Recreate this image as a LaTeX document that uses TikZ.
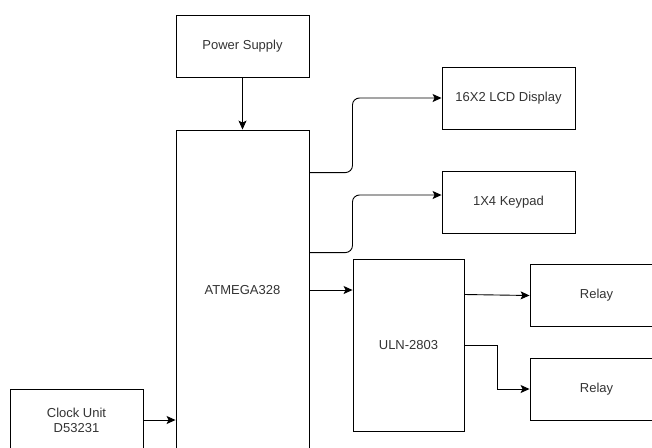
\documentclass[tikz,border=0pt]{standalone}
\usepackage{fontspec}
\setmainfont{Liberation Sans}
\usetikzlibrary{arrows.meta}

\tikzset{
  >={Stealth[length=9pt,width=8pt,inset=2pt]},
  blk/.style={draw, rectangle, line width=0.9pt, minimum width=133pt, minimum height=62pt,
    inner sep=0pt, align=center, text=black!80, font=\fontsize{13}{15}\selectfont},
  wire/.style={line width=0.9pt}
}

\begin{document}
\begin{tikzpicture}[x=1pt,y=-1pt]
            \useasboundingbox (0,0) rectangle (652,447);
            \clip (0,0) rectangle (652,447);

            % Blocks
            \node[blk] (ps) at (242.5,46) {Power Supply};
            \node[blk, minimum height=320pt] (atm) at (242.5,290) {ATMEGA328};
            \node[blk] (clk) at (76.5,420) {Clock Unit\\D53231};
            \node[blk] (lcd) at (508.5,98) {16X2 LCD Display};
            \node[blk] (kp) at (508.5,202) {1X4 Keypad};
            \node[blk, minimum width=111pt, minimum height=172pt] (uln) at (408.5,345) {ULN-2803};
            \node[blk] (r1) at (596.5,295.5) {Relay};
            \node[blk] (r2) at (596.5,389) {Relay};

            % Connections
            \draw[wire,->] (ps) -- (atm);
            \draw[wire,->] (clk.east) -- (clk.east -| atm.west);
            \draw[wire,->,rounded corners=7pt] ([yshift=-43pt]atm.north east) -- ++(43pt,0) |- (lcd.west);
            \draw[wire,->,rounded corners=7pt] ([yshift=-123pt]atm.north east) -- ++(43pt,0) |- ([yshift=7pt]kp.west);
            \draw[wire,->] (atm.east) -- (atm.east -| uln.west);
            \draw[wire,->] ([yshift=1pt]uln.east |- r1.west) -- (r1.west);
            \draw[wire,->] (uln.east) -- ++(33pt,0) |- (r2.west);

        \end{tikzpicture}
\end{document}
